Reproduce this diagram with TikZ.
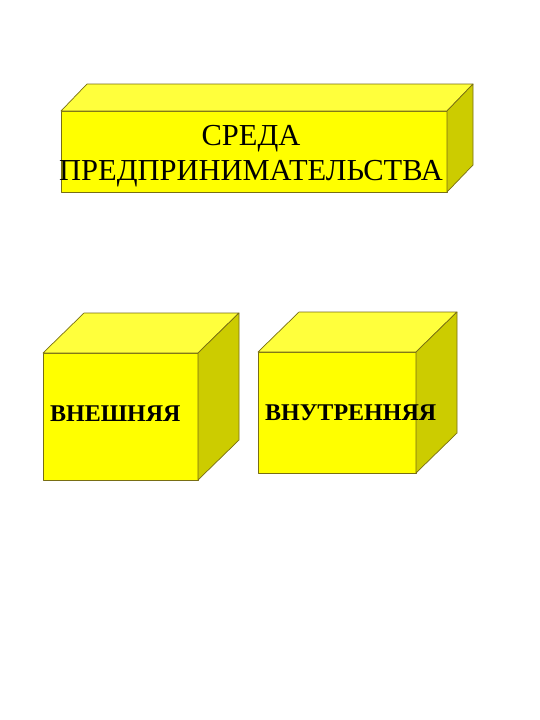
\documentclass[tikz,border=0pt]{standalone}
\usepackage{fontspec}
\setmainfont{Liberation Serif}
\definecolor{frontY}{RGB}{255,255,0}
\definecolor{topY}{RGB}{255,255,60}
\definecolor{sideY}{RGB}{204,204,0}
\definecolor{edgeY}{RGB}{120,110,20}
\tikzset{
  face/.style={draw=edgeY, line width=0.7pt, line join=round},
  lbl/.style={inner sep=0pt, text=black}
}
\newcommand{\cuboid}[6]{% x1,y1 (front top-left), x2,y2 (front bottom-right), dx, dy
  \fill[frontY,face] (#1,#2) rectangle (#3,#4);
  \fill[topY,face] (#1,#2) -- (#1+#5,#2-#6) -- (#3+#5,#2-#6) -- (#3,#2) -- cycle;
  \fill[sideY,face] (#3,#2) -- (#3+#5,#2-#6) -- (#3+#5,#4-#6) -- (#3,#4) -- cycle;
}
\begin{document}
\begin{tikzpicture}[x=1pt,y=-1pt]
\useasboundingbox (0,0) rectangle (540,720);
\fill[white] (0,0) rectangle (540,720);
\cuboid{61}{111}{447}{192}{26}{27}
\cuboid{43}{353}{198}{480}{41}{40}
\cuboid{258}{352}{416}{473}{41}{40}
\node[lbl, align=center, font=\fontsize{30.5}{35}\selectfont] (top) at (251,156) {СРЕДА\\ПРЕДПРИНИМАТЕЛЬСТВА};
\node[lbl, anchor=west, font=\fontsize{24}{28}\selectfont\bfseries] (ext) at (50,414) {ВНЕШНЯЯ};
\node[lbl, anchor=west, font=\fontsize{24}{28}\selectfont\bfseries] (int) at (265,413) {ВНУТРЕННЯЯ};
\end{tikzpicture}
\end{document}
